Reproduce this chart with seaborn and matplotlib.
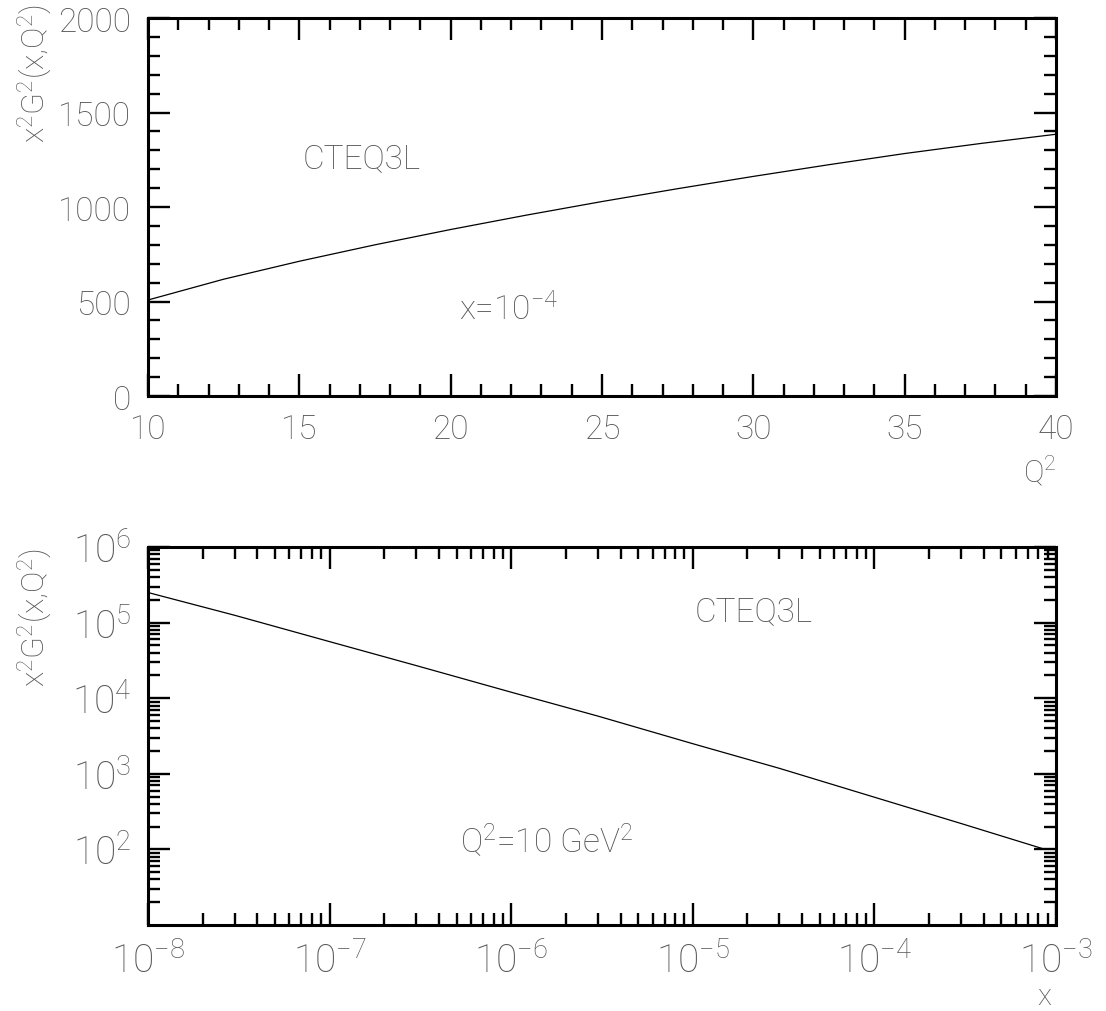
import numpy as np
import seaborn as sns
import matplotlib
matplotlib.use('Agg')
import matplotlib.pyplot as plt
from matplotlib.ticker import MultipleLocator, LogLocator, NullFormatter, LogFormatterMathtext

# top panel: x^2 G^2(x,Q^2) against Q^2, x = 1e-4
q2 = [10, 12.5, 15, 17.5, 20, 22.5, 25, 27.5, 30, 32.5, 35, 37.5, 40]
g_q2 = [508, 618, 713, 800, 881, 957, 1029, 1097, 1162, 1224, 1283, 1336, 1385]

# bottom panel: x^2 G^2(x,Q^2) against x, Q^2 = 10 GeV^2
xs = [1e-8, 3e-8, 1e-7, 3e-7, 1e-6, 3e-6, 1e-5, 3e-5, 1e-4, 3e-4, 8.7e-4]
g_x = [2.5e5, 1.25e5, 5.6e4, 2.7e4, 1.2e4, 5.8e3, 2.5e3, 1.18e3, 490, 220, 100]

ylab = 'x$^2$G$^2$(x,Q$^2$)'
grey = '#555555'

sns.set_style('ticks')
plt.rcParams['font.family'] = ['Roboto', 'DejaVu Sans']
plt.rcParams['font.weight'] = 'light'
plt.rcParams['axes.labelweight'] = 'light'
plt.rcParams['mathtext.fontset'] = 'custom'
plt.rcParams['mathtext.rm'] = 'Roboto:light'
plt.rcParams['mathtext.default'] = 'rm'
plt.rcParams['axes.edgecolor'] = 'black'

fig = plt.figure(figsize=(11.06, 10.12), dpi=100)
ax1 = fig.add_axes([0.1338, 0.6077, 0.821, 0.3735])
ax2 = fig.add_axes([0.1338, 0.085, 0.821, 0.3735])

sns.lineplot(x=q2, y=g_q2, ax=ax1, color='black', lw=0.9)
sns.lineplot(x=xs, y=g_x, ax=ax2, color='black', lw=0.9)

ax1.set_xlim(10, 40)
ax1.set_ylim(0, 2000)
ax1.xaxis.set_major_locator(MultipleLocator(5))
ax1.xaxis.set_minor_locator(MultipleLocator(1))
ax1.yaxis.set_major_locator(MultipleLocator(500))
ax1.yaxis.set_minor_locator(MultipleLocator(100))

ax2.set_xscale('log')
ax2.set_yscale('log')
ax2.set_xlim(1e-8, 1e-3)
ax2.set_ylim(1e1, 1e6)
for axis in (ax2.xaxis, ax2.yaxis):
    axis.set_major_locator(LogLocator(base=10, numticks=20))
    axis.set_minor_locator(LogLocator(base=10, subs=np.arange(2, 10), numticks=20))
    axis.set_minor_formatter(NullFormatter())
ax2.xaxis.set_major_formatter(LogFormatterMathtext())
ax2.yaxis.set_major_formatter(LogFormatterMathtext())
ax2.set_yticks([1e2, 1e3, 1e4, 1e5, 1e6])

for ax in (ax1, ax2):
    for s in ax.spines.values():
        s.set_linewidth(2.2)
        s.set_color('black')
        s.set_visible(True)
    ax.tick_params(which='both', direction='in', top=True, right=True,
                   width=1.7, color='black', labelcolor=grey)
    ax.tick_params(which='major', length=16)
    ax.tick_params(which='minor', length=8.5)
    ax.set_ylabel(ylab, fontsize=23, color=grey, loc='top', fontweight='light')

ax1.tick_params(axis='both', labelsize=24, pad=12)
ax2.tick_params(axis='both', labelsize=28, pad=12)

ax1.yaxis.set_label_coords(-0.103, 1.04)
ax2.yaxis.set_label_coords(-0.103, 1.0)

ax1.set_xlabel('Q$^2$', fontsize=22, color=grey, loc='right', fontweight='light')
ax1.xaxis.set_label_coords(1.0, -0.15)
ax2.set_xlabel('x', fontsize=21, color=grey, loc='right', fontweight='light')
ax2.xaxis.set_label_coords(0.995, -0.15)

ax1.text(17.07, 1259, 'CTEQ3L', fontsize=24, color=grey, ha='center', va='center')
ax1.text(21.93, 460, 'x=10$^{-4}$', fontsize=24, color=grey, ha='center', va='center')
ax2.text(10**-4.663, 10**5.153, 'CTEQ3L', fontsize=24, color=grey, ha='center', va='center')
ax2.text(10**-5.803, 10**2.12, 'Q$^2$=10 GeV$^2$', fontsize=24, color=grey, ha='center', va='center')

fig.savefig('out.png', dpi=100)
